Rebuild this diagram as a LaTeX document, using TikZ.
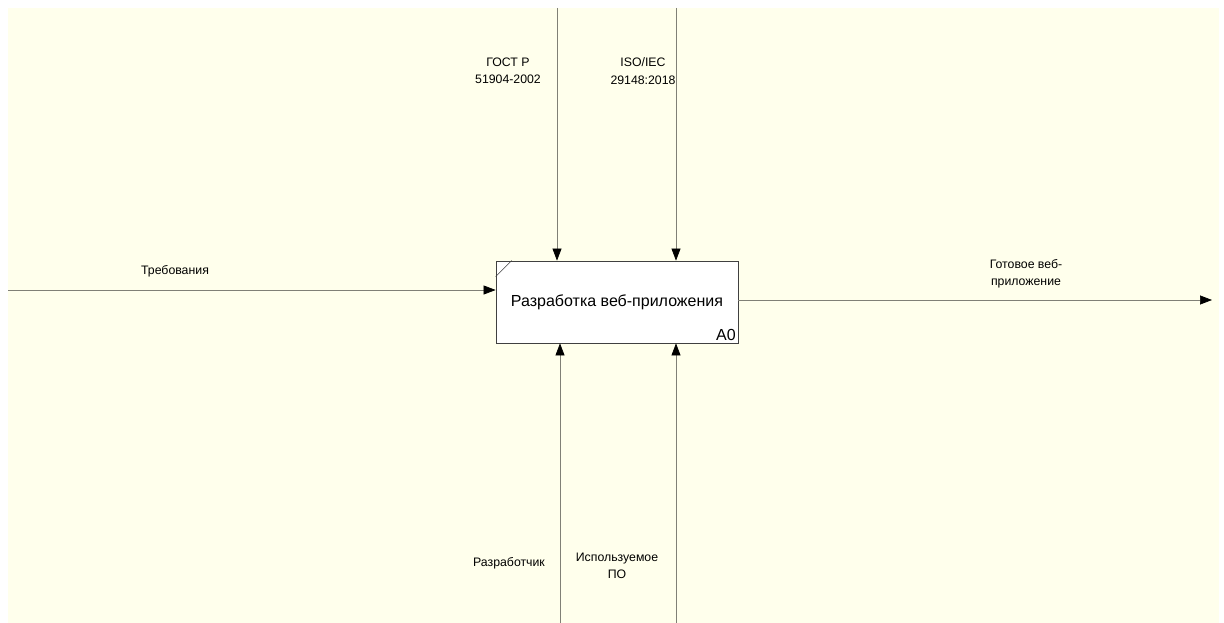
\documentclass[tikz,border=0pt]{standalone}
\usepackage{fontspec}
\setmainfont{Liberation Sans}
\usetikzlibrary{arrows.meta}
\definecolor{sheet}{RGB}{255,255,236}
\definecolor{wire}{RGB}{128,128,118}
\tikzset{
  func/.style={draw=black!75,fill=white,line width=0.8pt,minimum width=242pt,minimum height=82pt,inner sep=0pt,font=\fontsize{16}{18}\selectfont},
  flow/.style={draw=wire,line width=0.7pt,-{Triangle[length=12pt,width=9pt,fill=black,color=black]}},
  lbl/.style={font=\fontsize{12.3}{17.5}\selectfont,align=center,inner sep=0pt}
}
\begin{document}
\begin{tikzpicture}[x=1pt,y=-1pt]
  \useasboundingbox (0,0) rectangle (1224,623);
  \fill[sheet] (8,8) rectangle (1219,623);
  \node[func] (a0) at (617,302) {Разработка веб-приложения};
  \draw[black!75,line width=0.6pt] (a0.north west) ++(0,16) -- ++(16,-16);
  \node[anchor=south east,font=\fontsize{16}{18}\selectfont,inner sep=2.5pt] (num) at (a0.south east) {A0};
  \coordinate (in) at (8,290);
  \coordinate (out) at (1212,300);
  \coordinate (ctl1) at (557,8);
  \coordinate (ctl2) at (676,8);
  \coordinate (mec1) at (560,623);
  \coordinate (mec2) at (676,623);
  \begin{scope}[flow]
    \draw (in) -- (in -| a0.west);
    \draw (ctl1) -- (ctl1 |- a0.north);
    \draw (ctl2) -- (ctl2 |- a0.north);
    \draw (mec1) -- (mec1 |- a0.south);
    \draw (mec2) -- (mec2 |- a0.south);
    \draw (out -| a0.east) -- (out);
  \end{scope}
  \draw
    (175,271) node[lbl] (req) {Требования}
    (508,71) node[lbl] (gost) {ГОСТ Р\\51904-2002}
    (643,71) node[lbl] (iso) {ISO/IEC\\29148:2018}
    (509,563) node[lbl] (dev) {Разработчик}
    (617,566) node[lbl] (soft) {Используемое\\ПО}
    (1026,274) node[lbl] (app) {Готовое веб-\\приложение};
\end{tikzpicture}
\end{document}
